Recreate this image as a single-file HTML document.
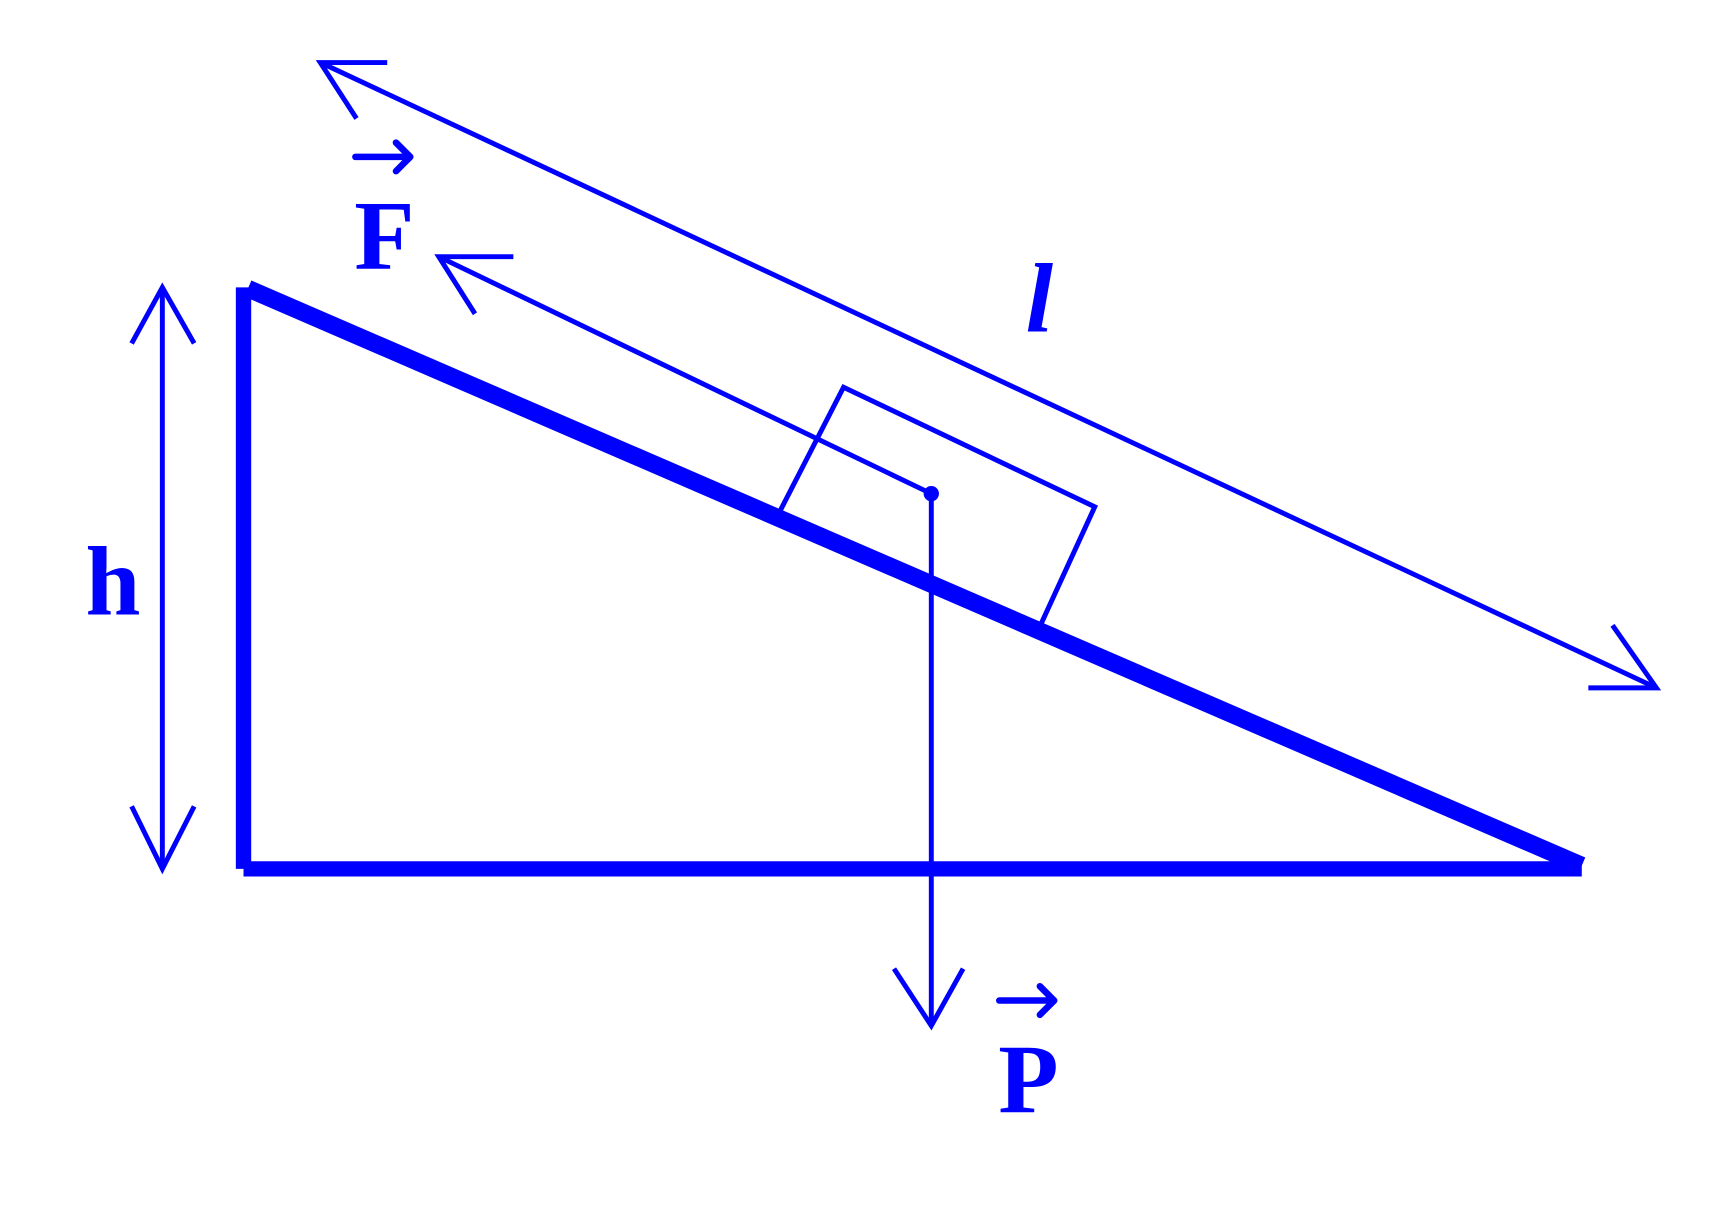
<!DOCTYPE html>
<html><head><meta charset="utf-8"><style>
html,body{margin:0;padding:0;background:#fff;width:1720px;height:1232px;overflow:hidden}
svg{display:block}
</style></head><body>
<svg width="1720" height="1232" viewBox="0 0 1568 1123" preserveAspectRatio="none" xmlns="http://www.w3.org/2000/svg">
<g stroke="#0000ff" fill="none">
<line x1="222" y1="262" x2="222" y2="792" stroke-width="14"/>
<line x1="222" y1="792" x2="1442" y2="792" stroke-width="14"/>
<line x1="226" y1="263" x2="1442" y2="789" stroke-width="16"/>
<g stroke-width="4.5">
<line x1="148" y1="262" x2="148" y2="792"/>
<polyline points="120,313 148,262 177,313"/>
<polyline points="120,735 148,792 177,735"/>
<line x1="292" y1="57" x2="1510" y2="627"/>
<polyline points="353,57 292,57 325,108"/>
<polyline points="1448,627 1510,627 1470,570"/>
<line x1="400" y1="234" x2="849" y2="450"/>
<polyline points="468,234 400,234 433,286"/>
<polyline points="711,466 769,353 998,462 948,571"/>
<line x1="849" y1="450" x2="849" y2="935"/>
<polyline points="815,883 849,935 878,883"/>
</g>
<g stroke-width="6" stroke-linecap="round" stroke-linejoin="round">
<path d="M324 143 H374 M361 130 L374 143 L361 156"/>
<path d="M911 912 H961 M948 899 L961 912 L948 925"/>
</g>
</g>
<circle cx="849" cy="450" r="7" fill="#0000ff"/>
<g fill="#0000ff" font-family="Liberation Serif, serif" font-size="90" font-weight="bold">
<text x="78" y="560">h</text>
<text x="323" y="245">F</text>
<text x="910" y="1014">P</text>
<text x="935" y="302" font-style="italic">l</text>
</g>
</svg>
</body></html>
